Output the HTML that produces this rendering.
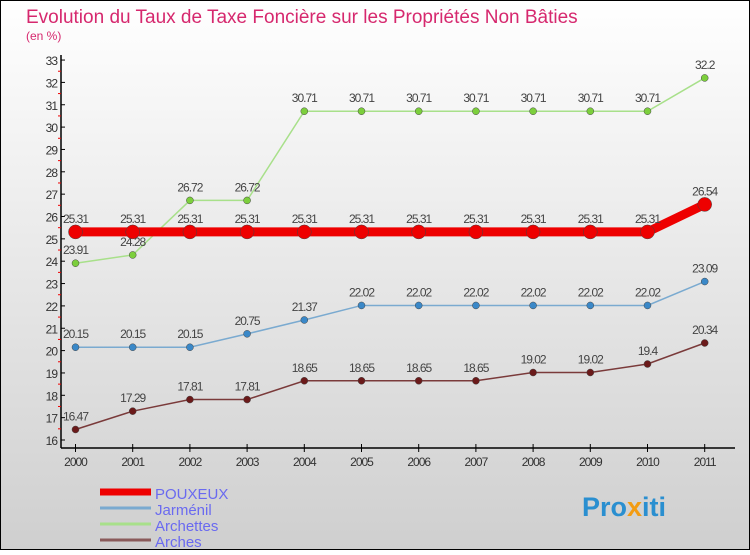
<!DOCTYPE html>
<html><head><meta charset="utf-8"><style>
body{margin:0;width:750px;height:550px;overflow:hidden;font-family:"Liberation Sans","DejaVu Sans",sans-serif}
</style></head><body>
<svg id="chart" width="750" height="550">
<defs><linearGradient id="bg" x1="0" y1="0" x2="0" y2="1"><stop offset="0" stop-color="#ffffff"/><stop offset="1" stop-color="#cfcfcf"/></linearGradient></defs>
<rect x="0.5" y="0.5" width="749" height="549" fill="url(#bg)" stroke="#000"/>
<text x="26" y="23" font-size="19" fill="#d6286e">Evolution du Taux de Taxe Foncière sur les Propriétés Non Bâties</text>
<text x="26" y="40" font-size="12" fill="#d6286e">(en %)</text>
<g id="axes"></g><g id="series"></g><g id="legend"></g>
<text x="582" y="516" font-size="27" font-weight="bold" fill="#2a8fd0">Pro<tspan fill="#f39c12">x</tspan>iti</text>
</svg>
<script>
const years=[2000,2001,2002,2003,2004,2005,2006,2007,2008,2009,2010,2011];
const yTicks=[16,17,18,19,20,21,22,23,24,25,26,27,28,29,30,31,32,33];
const pouxeux=[25.31,25.31,25.31,25.31,25.31,25.31,25.31,25.31,25.31,25.31,25.31,26.54];
const jarmenil=[20.15,20.15,20.15,20.75,21.37,22.02,22.02,22.02,22.02,22.02,22.02,23.09];
const archettes=[23.91,24.28,26.72,26.72,30.71,30.71,30.71,30.71,30.71,30.71,30.71,32.2];
const arches=[16.47,17.29,17.81,17.81,18.65,18.65,18.65,18.65,19.02,19.02,19.4,20.34];
const names=["POUXEUX","Jarménil","Archettes","Arches"];
const NS="http://www.w3.org/2000/svg";
const X=i=>75.5+i*57.2, Y=v=>440-(v-16)*22.35;
function mk(t,a,p){const e=document.createElementNS(NS,t);for(const k in a)e.setAttribute(k,a[k]);(p||document.getElementById('chart')).appendChild(e);return e;}
const ax=document.getElementById('axes');
const ya=mk('line',{x1:61,y1:55,x2:61,y2:448,stroke:'#000','stroke-width':1.5},ax);

const xa=mk('line',{x1:61,y1:448,x2:735,y2:448,stroke:'#000','stroke-width':1.5},ax);

yTicks.forEach(v=>{mk('line',{x1:61,x2:65,y1:Y(v),y2:Y(v),stroke:'#000'},ax);
 if(v<33)mk('line',{x1:58,x2:61,y1:Y(v+0.5),y2:Y(v+0.5),stroke:'#e00'},ax);
 const t=mk('text',{x:57,y:Y(v)+5,'font-size':12,'text-anchor':'end',fill:'#333','letter-spacing':'-1'},ax);t.textContent=v;
 });
years.forEach((y,i)=>{mk('line',{x1:X(i),x2:X(i),y1:444,y2:452,stroke:'#000'},ax);
 const t=mk('text',{x:X(i),y:466,'font-size':12,'text-anchor':'middle',fill:'#333','letter-spacing':'-1'},ax);t.textContent=y;
 });
const S=document.getElementById('series');
function series(d,col,dot,w,r,nm,fmt){
 const g=mk('g',{},S);
 mk('polyline',{points:d.map((v,i)=>X(i)+','+Y(v)).join(' '),fill:'none',stroke:col,'stroke-width':w},g);
 d.forEach((v,i)=>{const c=mk('circle',{cx:X(i),cy:Y(v),r:r,fill:dot,stroke:'#444','stroke-width':0.5},g);
  
  const t=mk('text',{x:X(i),y:Y(v)-9,'font-size':12,'text-anchor':'middle',fill:'#444','letter-spacing':'-1'},g);t.textContent=String(v).replace('.', '.');
  });
}
series(arches,'#7a3a3a','#6b1a1a',1.5,3.5,'arches');
series(jarmenil,'#7aaad0','#3a88c8',1.5,3.5,'jarmenil');
series(archettes,'#a8e08a','#7ccf3c',1.5,3.5,'archettes');
series(pouxeux,'#ee0000','#ee0000',9,7,'pouxeux');
const L=document.getElementById('legend');
const lc=['#ee0000','#7aaad0','#a8e08a','#8a5a5a'],lw=[7,3,3,3];
names.forEach((n,i)=>{const y=492+i*16;
 const g=mk('g',{},L);
 mk('line',{x1:100,x2:151,y1:y,y2:y,stroke:lc[i],'stroke-width':lw[i]},g);
 const t=mk('text',{x:155,y:y+7,'font-size':15,fill:'#6a6af0'},g);t.textContent=n;});
</script>
</body></html>
